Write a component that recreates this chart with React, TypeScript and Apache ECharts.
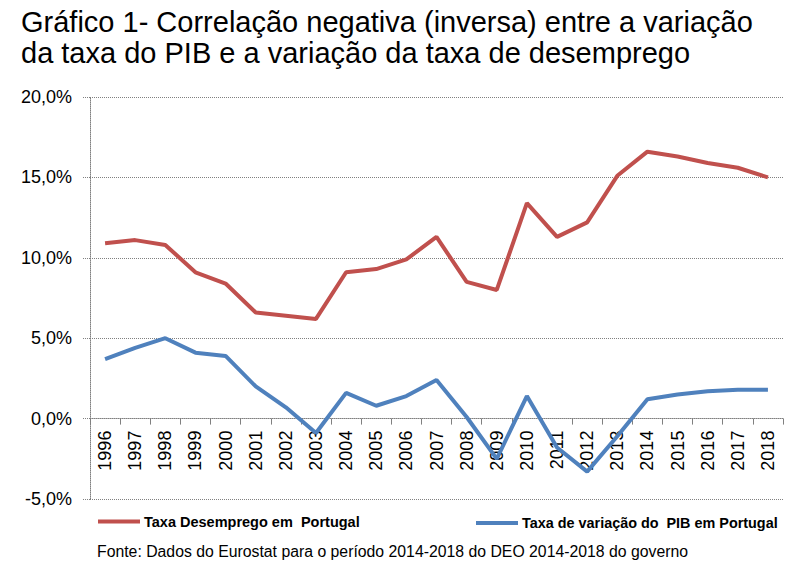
import React, { useEffect, useRef } from "react";
import * as echarts from "echarts";

const years = ["1996","1997","1998","1999","2000","2001","2002","2003","2004","2005","2006","2007","2008","2009","2010","2011","2012","2013","2014","2015","2016","2017","2018"];
const unemployment = [10.9, 11.1, 10.8, 9.1, 8.4, 6.6, 6.4, 6.2, 9.1, 9.3, 9.9, 11.3, 8.5, 8.0, 13.4, 11.3, 12.2, 15.1, 16.6, 16.3, 15.9, 15.6, 15.0];
const gdp = [3.7, 4.4, 5.0, 4.1, 3.9, 2.0, 0.7, -0.9, 1.6, 0.8, 1.4, 2.4, 0.1, -2.5, 1.4, -1.8, -3.3, -1.1, 1.2, 1.5, 1.7, 1.8, 1.8];
const seriesNames = ["Taxa Desemprego em  Portugal", "Taxa de variação do  PIB em Portugal"];
const titleLines = ["Gráfico 1- Correlação negativa (inversa) entre a variação", "da taxa do PIB e a variação da taxa de desemprego"];
const footer = "Fonte: Dados do Eurostat para o período 2014-2018 do DEO 2014-2018 do governo";
const Y_MIN = -5;
const Y_MAX = 20;

const FONT = "'Liberation Sans', Arial, sans-serif";

export default function App() {
  const ref = useRef<HTMLDivElement>(null);
  useEffect(() => {
    const chart = echarts.init(ref.current!, null, { renderer: "svg" });
    const gridTop = 97;
    const gridBottom = 76;
    const gridH = 575 - gridTop - gridBottom;
    const zeroOffset = -((0 - Y_MIN) / (Y_MAX - Y_MIN)) * gridH;
    chart.setOption({
      animation: false,
      backgroundColor: "#fff",
      grid: { left: 90, right: 19, top: gridTop, bottom: gridBottom, containLabel: false },
      legend: [
        {
          data: [seriesNames[0]], left: 98, top: 514, padding: 0, icon: "rect",
          itemWidth: 42, itemHeight: 4, itemGap: 0,
          textStyle: { fontFamily: FONT, fontWeight: "bold", fontSize: 14.5, color: "#000", padding: [0, 0, 0, -1] },
        },
        {
          data: [seriesNames[1]], left: 476, top: 516, padding: 0, icon: "rect",
          itemWidth: 42, itemHeight: 4, itemGap: 0,
          textStyle: { fontFamily: FONT, fontWeight: "bold", fontSize: 14.4, color: "#000", padding: [0, 0, 0, -1] },
        },
      ],
      xAxis: {
        type: "category", data: years, boundaryGap: true, offset: zeroOffset,
        axisLine: { onZero: false, lineStyle: { color: "#808080", type: "dotted", width: 1 } },
        axisTick: { show: true, length: 6, lineStyle: { color: "#808080" } },
        axisLabel: { rotate: 90, margin: 12, fontFamily: FONT, fontSize: 18, color: "#000", interval: 0 },
      },
      yAxis: {
        type: "value", min: Y_MIN, max: Y_MAX, interval: 5,
        axisLine: { show: true, lineStyle: { color: "#808080", type: "dotted", width: 1 } },
        axisTick: { show: true, length: 8, lineStyle: { color: "#808080", type: "dotted" } },
        splitLine: { show: true, lineStyle: { color: "#808080", type: "dotted", width: 1 } },
        axisLabel: {
          margin: 18, fontFamily: FONT, fontSize: 18, color: "#000",
          formatter: (v: number) => v.toFixed(1).replace(".", ",") + "%",
        },
      },
      series: [
        { name: seriesNames[0], type: "line", data: unemployment, symbol: "none", lineStyle: { width: 4, color: "#C0504D" }, itemStyle: { color: "#C0504D" } },
        { name: seriesNames[1], type: "line", data: gdp, symbol: "none", lineStyle: { width: 4, color: "#4F81BD" }, itemStyle: { color: "#4F81BD" } },
      ],
      graphic: [
        { type: "text", left: 21, top: 7, style: { text: titleLines[0], font: `29px ${FONT}`, fill: "#000" } },
        { type: "text", left: 21, top: 38, style: { text: titleLines[1], font: `29px ${FONT}`, fill: "#000" } },
        { type: "text", left: 97, top: 543, style: { text: footer, font: `15.8px ${FONT}`, fill: "#000" } },
      ],
    });
    return () => chart.dispose();
  }, []);
  return <div ref={ref} style={{ width: 802, height: 575, position: "absolute", left: 0, top: 0 }} />;
}
